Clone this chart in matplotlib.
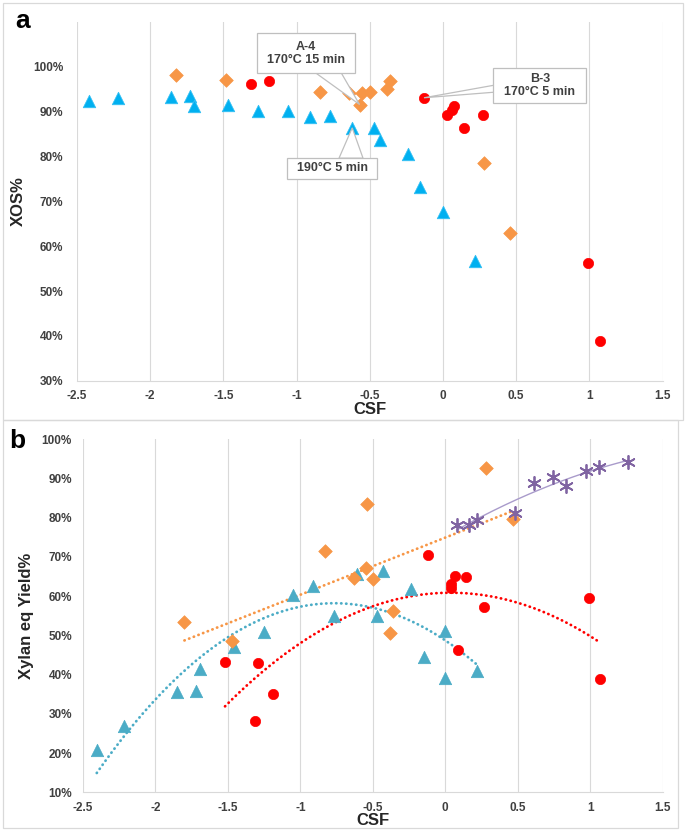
import matplotlib
matplotlib.use('Agg')
import matplotlib.pyplot as plt
import numpy as np
from matplotlib.patches import Rectangle, Polygon
from matplotlib.ticker import FuncFormatter

plt.rcParams['font.family'] = ['Liberation Sans', 'DejaVu Sans']
plt.rcParams['font.weight'] = 'bold'

# panel a: XOS%
tri_a_x = [-2.42, -2.22, -1.86, -1.73, -1.70, -1.47, -1.26, -1.06, -0.91, -0.77, -0.62, -0.47, -0.43, -0.24, -0.155, 0.00, 0.22]
tri_a_y = [92.4, 93.1, 93.2, 93.5, 91.2, 91.4, 90.2, 90.2, 88.9, 89.0, 86.4, 86.4, 83.7, 80.6, 73.1, 67.6, 56.7]
dia_a_x = [-1.82, -1.48, -0.84, -0.64, -0.57, -0.555, -0.50, -0.385, -0.36, 0.28, 0.46]
dia_a_y = [98.2, 97.0, 94.3, 94.2, 91.6, 94.1, 94.3, 95.0, 96.9, 78.5, 62.9]
red_a_x = [-1.31, -1.19, -0.13, 0.03, 0.06, 0.075, 0.14, 0.27, 0.99, 1.07]
red_a_y = [96.2, 96.8, 93.1, 89.2, 90.3, 91.2, 86.4, 89.2, 56.3, 38.9]

# panel b: Xylan eq Yield%
tri_b_x = [-2.405, -2.215, -1.85, -1.72, -1.69, -1.46, -1.25, -1.05, -0.91, -0.77, -0.61, -0.47, -0.43, -0.235, -0.15, 0.0, 0.0, 0.22]
tri_b_y = [20.8, 27.0, 35.6, 35.8, 41.4, 47.0, 50.9, 60.2, 62.7, 55.0, 65.7, 55.0, 66.5, 61.8, 44.6, 51.1, 39.1, 40.9]
dia_b_x = [-1.80, -1.47, -0.83, -0.63, -0.545, -0.54, -0.50, -0.38, -0.36, 0.28, 0.47]
dia_b_y = [53.3, 48.7, 71.6, 64.6, 67.1, 83.5, 64.3, 50.5, 56.3, 92.8, 79.8]
red_b_x = [-1.52, -1.31, -1.29, -1.19, -0.12, 0.036, 0.04, 0.07, 0.085, 0.14, 0.27, 0.99, 1.07]
red_b_y = [43.2, 28.2, 43.0, 35.0, 70.4, 63.0, 62.0, 65.2, 46.3, 65.0, 57.3, 59.5, 39.0]
star_x = [0.08, 0.166, 0.217, 0.48, 0.615, 0.74, 0.83, 0.97, 1.06, 1.26]
star_y = [78.1, 78.1, 79.4, 81.3, 88.9, 90.3, 88.1, 91.9, 93.0, 94.1]

x_ticks = [-2.5, -2, -1.5, -1, -0.5, 0, 0.5, 1, 1.5]
x_ticklabels = ['-2.5', '-2', '-1.5', '-1', '-0.5', '0', '0.5', '1', '1.5']

a_blue = '#00B0F0'
b_blue = '#4BACC6'
orange = '#F79646'
red = '#FF0000'
purple = '#8064A2'
grid_c = '#D9D9D9'
text_c = '#404040'

fig = plt.figure(figsize=(6.85, 8.32), dpi=100)

# chart-area frames
fig.patches.append(Rectangle((3/685, 1-420/832), 680/685, 417/832, transform=fig.transFigure,
                             fill=False, ec=grid_c, lw=0.9))
fig.patches.append(Rectangle((3/685, 1-828/832), 675/685, 408/832, transform=fig.transFigure,
                             fill=False, ec=grid_c, lw=0.9))

ax_a = fig.add_axes([76.9/685, 1-380.7/832, 585.8/685, 358.7/832])
ax_b = fig.add_axes([83/685, 1-792.3/832, 579.7/685, 353/832])

pct = FuncFormatter(lambda v, p: f'{v:.0f}%')


def style_axes(ax, ylim, yticks, ylabel, ylabel_x, ypad):
    ax.set_xlim(-2.5, 1.5)
    ax.set_ylim(*ylim)
    ax.set_xticks(x_ticks)
    ax.set_xticklabels(x_ticklabels)
    ax.set_yticks(yticks)
    ax.yaxis.set_major_formatter(pct)
    ax.grid(axis='x', color=grid_c, lw=0.8)
    ax.set_axisbelow(True)
    for s in ['top', 'right', 'left']:
        ax.spines[s].set_visible(False)
    ax.spines['bottom'].set_color(grid_c)
    ax.tick_params(axis='both', length=0, labelsize=8.5, colors=text_c)
    ax.tick_params(axis='x', pad=7)
    ax.tick_params(axis='y', pad=ypad)
    ax.set_xlabel('CSF', fontsize=12, fontweight='bold', color='#262626', va='center')
    ax.set_ylabel(ylabel, fontsize=12, fontweight='bold', color='#262626', va='center')
    ax.yaxis.set_label_coords(ylabel_x, 0.5)


style_axes(ax_a, (30, 110), np.arange(30, 101, 10), 'XOS%', -0.0997, 10)
ax_a.xaxis.set_label_coords(0.5, -28.5/358.7)
style_axes(ax_b, (10, 100), np.arange(10, 101, 10), 'Xylan eq Yield%', -0.097, 8)
ax_b.xaxis.set_label_coords(0.5, -28/353)

# panel a markers
ax_a.scatter(tri_a_x, tri_a_y, marker='^', s=80, c=a_blue, edgecolors='#33BFF3', lw=0.6, zorder=3)
ax_a.scatter(dia_a_x, dia_a_y, marker='D', s=48, c=orange, edgecolors=orange, lw=0.5, zorder=3)
ax_a.scatter(red_a_x, red_a_y, marker='o', s=55, c=red, edgecolors=red, lw=0.5, zorder=3)

# callouts: box centre in data units, box size and leader base in pixels
sx = 4 / 585.8
sy = 80 / 358.7


def callout(ax, text, cx, cy, w, h, target, base):
    ax.add_patch(Rectangle((cx - w/2*sx, cy - h/2*sy), w*sx, h*sy, fc='white',
                           ec='#BFBFBF', lw=0.9, zorder=5))
    pts = [(cx + bx*sx, cy - by*sy) for bx, by in base] + [target]
    ax.add_patch(Polygon(pts, closed=True, fc='white', ec='#BFBFBF', lw=0.9, zorder=4))
    ax.text(cx, cy, text, ha='center', va='center', fontsize=9, fontweight='bold',
            color=text_c, linespacing=1.15, zorder=6)


callout(ax_a, 'A-4\n170°C 15 min', -0.936, 103.0, 98, 40,
        (dia_a_x[4], dia_a_y[4]), [(9, 19), (35, 19)])
callout(ax_a, 'B-3\n170°C 5 min', 0.662, 95.9, 93, 35,
        (red_a_x[2], red_a_y[2]), [(-46, 0), (-46, 7)])
callout(ax_a, '190°C 5 min', -0.758, 77.4, 90, 21,
        (tri_a_x[10], tri_a_y[10]), [(7, -10), (31, -10)])

# panel b markers
ax_b.scatter(tri_b_x, tri_b_y, marker='^', s=80, c=b_blue, edgecolors=b_blue, lw=0.5, zorder=3)
ax_b.scatter(dia_b_x, dia_b_y, marker='D', s=48, c=orange, edgecolors=orange, lw=0.5, zorder=3)
ax_b.scatter(red_b_x, red_b_y, marker='o', s=55, c=red, edgecolors=red, lw=0.5, zorder=3)
ax_b.scatter(star_x, star_y, marker=(6, 2, 0), s=90, c=purple, lw=1.3, zorder=3)

# trendlines
dot = dict(ls=(0, (0.1, 1.7)), dash_capstyle='round', lw=2.0, zorder=2)


def trend(ax, xs, ys, deg, **kw):
    coef = np.polyfit(xs, ys, deg)
    xx = np.linspace(min(xs), max(xs), 200)
    ax.plot(xx, np.polyval(coef, xx), **kw)


trend(ax_b, dia_b_x, dia_b_y, 1, color=orange, **dot)
trend(ax_b, tri_b_x, tri_b_y, 2, color=b_blue, **dot)
trend(ax_b, red_b_x, red_b_y, 2, color=red, **dot)
trend(ax_b, star_x, star_y, 2, color='#A99BCB', lw=1.0, zorder=2)

fig.text(23/685, 1-21.5/832, 'a', fontsize=19, fontweight='bold', ha='center', va='center')
fig.text(17.5/685, 1-441/832, 'b', fontsize=19, fontweight='bold', ha='center', va='center')

fig.savefig('out.png', dpi=100)
